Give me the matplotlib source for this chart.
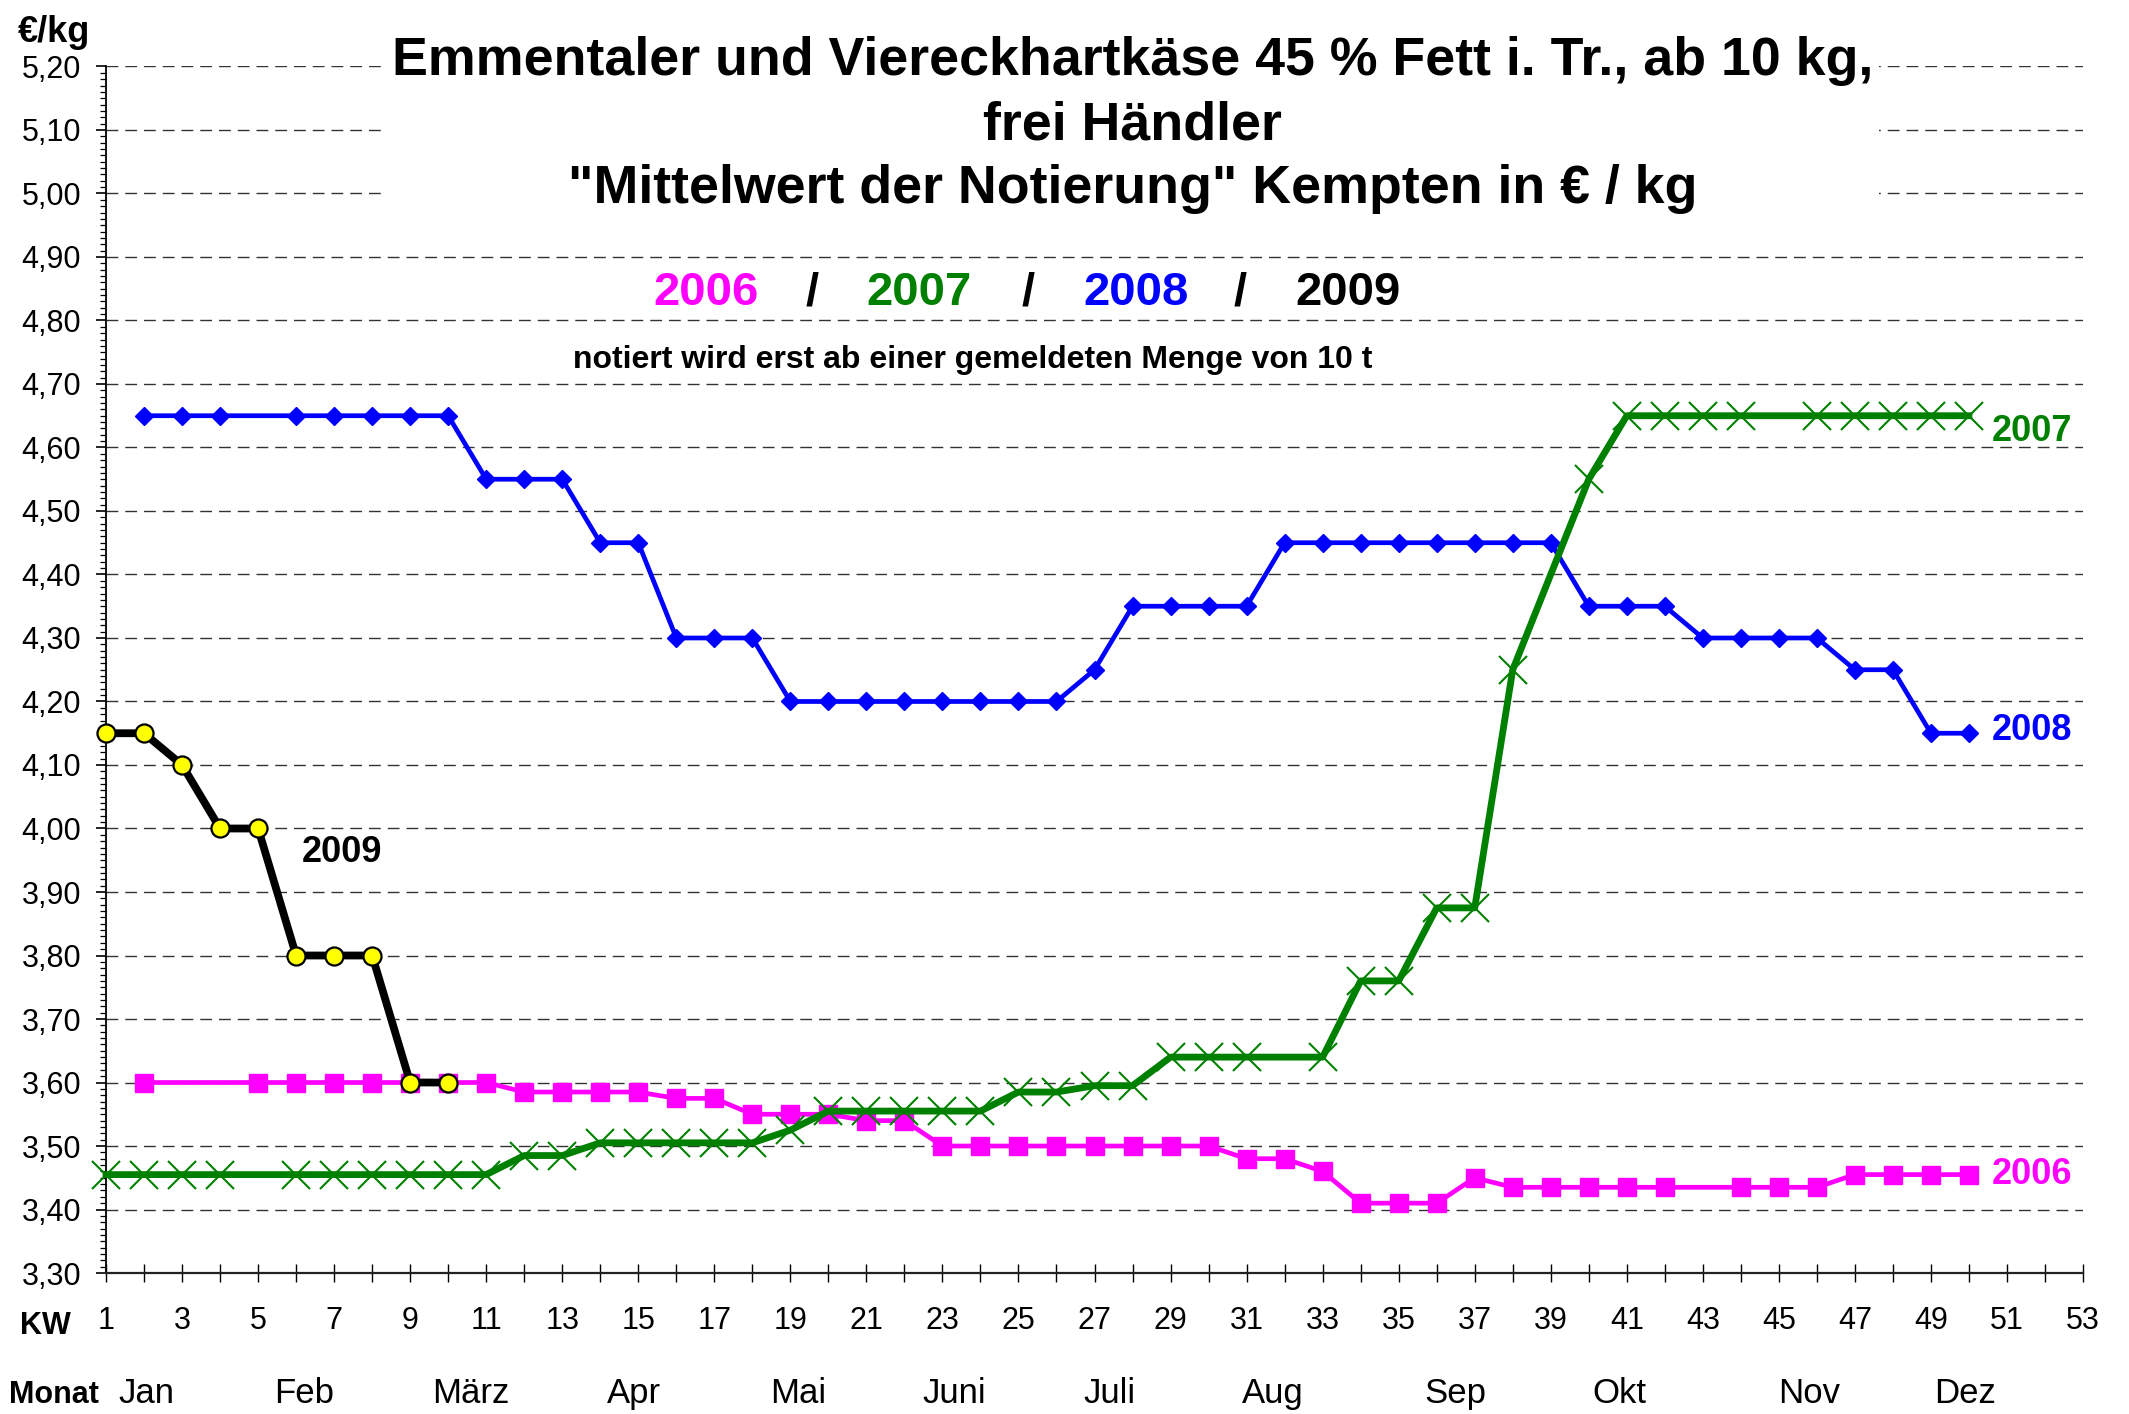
import numpy as np
import matplotlib

matplotlib.use('Agg')
import matplotlib.pyplot as plt
from matplotlib.ticker import MultipleLocator

plt.rcParams['font.family'] = ['Liberation Sans', 'DejaVu Sans']

nan = np.nan
weeks = np.arange(1, 51)

# Notierung Kempten, EUR/kg, je Kalenderwoche (nan = keine Notierung)
p2006 = [nan, 3.60, nan, nan, 3.60, 3.60, 3.60, 3.60, 3.60, 3.60,
         3.60, 3.585, 3.585, 3.585, 3.585, 3.575, 3.575, 3.55, 3.55, 3.55,
         3.54, 3.54, 3.50, 3.50, 3.50, 3.50, 3.50, 3.50, 3.50, 3.50,
         3.48, 3.48, 3.46, 3.41, 3.41, 3.41, 3.45, 3.435, 3.435, 3.435,
         3.435, 3.435, nan, 3.435, 3.435, 3.435, 3.455, 3.455, 3.455, 3.455]
p2007 = [3.455, 3.455, 3.455, 3.455, nan, 3.455, 3.455, 3.455, 3.455, 3.455,
         3.455, 3.485, 3.485, 3.505, 3.505, 3.505, 3.505, 3.505, 3.525, 3.555,
         3.555, 3.555, 3.555, 3.555, 3.585, 3.585, 3.595, 3.595, 3.64, 3.64,
         3.64, nan, 3.64, 3.76, 3.76, 3.875, 3.875, 4.25, nan, 4.55,
         4.65, 4.65, 4.65, 4.65, nan, 4.65, 4.65, 4.65, 4.65, 4.65]
p2008 = [nan, 4.65, 4.65, 4.65, nan, 4.65, 4.65, 4.65, 4.65, 4.65,
         4.55, 4.55, 4.55, 4.45, 4.45, 4.30, 4.30, 4.30, 4.20, 4.20,
         4.20, 4.20, 4.20, 4.20, 4.20, 4.20, 4.25, 4.35, 4.35, 4.35,
         4.35, 4.45, 4.45, 4.45, 4.45, 4.45, 4.45, 4.45, 4.45, 4.35,
         4.35, 4.35, 4.30, 4.30, 4.30, 4.30, 4.25, 4.25, 4.15, 4.15]
p2009 = [4.15, 4.15, 4.10, 4.00, 4.00, 3.80, 3.80, 3.80, 3.60, 3.60]

months = ['Jan', 'Feb', 'März', 'Apr', 'Mai', 'Juni', 'Juli', 'Aug', 'Sep', 'Okt', 'Nov', 'Dez']
month_pos = [2.05, 6.2, 10.6, 14.9, 19.2, 23.3, 27.4, 31.7, 36.5, 40.8, 45.8, 49.9]


def valid(x, y):
    # missing weeks are skipped, the line joins the neighbours
    x = np.asarray(x, dtype=float)
    y = np.asarray(y, dtype=float)
    m = ~np.isnan(y)
    return x[m], y[m]


fig = plt.figure(figsize=(21.29, 14.14), dpi=100)
ax = fig.add_axes([0.0498, 0.0997, 0.9286, 0.8533])

x, y = valid(weeks, p2006)
ax.plot(x, y, color='#FF00FF', lw=3.4, marker='s', ms=13.5, mfc='#FF00FF', mec='#FF00FF',
        zorder=3, clip_on=False)
x, y = valid(weeks, p2008)
ax.plot(x, y, color='#0000FF', lw=3.4, marker='D', ms=9.5, mfc='#0000FF', mec='#0000FF',
        zorder=4, clip_on=False)
x, y = valid(weeks, p2007)
ax.plot(x, y, color='#008000', lw=4.9, marker='x', ms=20, mew=1.5, mec='#008000',
        zorder=5, clip_on=False)
x, y = valid(weeks[:len(p2009)], p2009)
ax.plot(x, y, color='black', lw=5.6, marker='o', ms=13, mfc='#FFFF00', mec='black', mew=1.6,
        zorder=6, clip_on=False)

ax.set_xlim(1, 53)
ax.set_ylim(3.30, 5.20)

yt = np.round(np.arange(3.30, 5.201, 0.10), 2)
ax.set_yticks(yt)
ax.set_yticklabels([f'{v:.2f}'.replace('.', ',') for v in yt], fontsize=22)
ax.yaxis.set_minor_locator(MultipleLocator(0.01))
ax.tick_params(axis='y', which='major', direction='out', length=7, width=1.2, pad=11)
ax.tick_params(axis='y', which='minor', direction='out', length=4.5, width=0.9)

xt = list(range(1, 54))
ax.set_xticks(xt)
ax.set_xticklabels([str(w) if w % 2 == 1 else '' for w in xt], fontsize=22)
ax.tick_params(axis='x', which='major', direction='inout', length=13, width=1.0, pad=17)

ax.grid(axis='y', which='major', color='#333333', lw=1.0, linestyle=(0, (8.5, 5)))
ax.set_axisbelow(True)
for s in ['top', 'right']:
    ax.spines[s].set_visible(False)
ax.spines['left'].set_linewidth(1.3)
ax.spines['bottom'].set_linewidth(1.6)
ax.spines['bottom'].set_color('#222222')

xtr = ax.get_xaxis_transform()
for m, p in zip(months, month_pos):
    ax.text(p, -0.1, m, transform=xtr, ha='center', va='center', fontsize=25)

# series labels
ax.text(50.6, 4.625, '2007', color='#008000', fontsize=26, fontweight='bold', ha='left', va='center')
ax.text(50.6, 4.155, '2008', color='#0000FF', fontsize=26, fontweight='bold', ha='left', va='center')
ax.text(50.6, 3.455, '2006', color='#FF00FF', fontsize=26, fontweight='bold', ha='left', va='center')
ax.text(6.15, 3.962, '2009', color='black', fontsize=26, fontweight='bold', ha='left', va='center')

fig.text(0.532, 0.9115,
         'Emmentaler und Viereckhartkäse 45 % Fett i. Tr., ab 10 kg,\nfrei Händler\n'
         '"Mittelwert der Notierung" Kempten in € / kg',
         ha='center', va='center', fontsize=38.7, fontweight='bold', linespacing=1.36,
         bbox=dict(facecolor='white', edgecolor='none', pad=4))

yr_y = 0.7925
for xx, txt, col in [(0.3317, '2006', '#FF00FF'), (0.3814, '/', 'black'),
                     (0.4318, '2007', '#008000'), (0.4828, '/', 'black'),
                     (0.5338, '2008', '#0000FF'), (0.5823, '/', 'black'),
                     (0.6333, '2009', 'black')]:
    fig.text(xx, yr_y, txt, color=col, ha='center', va='center', fontsize=34, fontweight='bold')

fig.text(0.457, 0.7455, 'notiert wird erst ab einer gemeldeten Menge von 10 t',
         ha='center', va='center', fontsize=23, fontweight='bold')

fig.text(0.0253, 0.977, '€/kg', ha='center', va='center', fontsize=26, fontweight='bold')
fig.text(0.0211, 0.0625, 'KW', ha='center', va='center', fontsize=22, fontweight='bold')
fig.text(0.0255, 0.0134, 'Monat', ha='center', va='center', fontsize=22, fontweight='bold')

fig.savefig('out.png', dpi=100, facecolor='white')
